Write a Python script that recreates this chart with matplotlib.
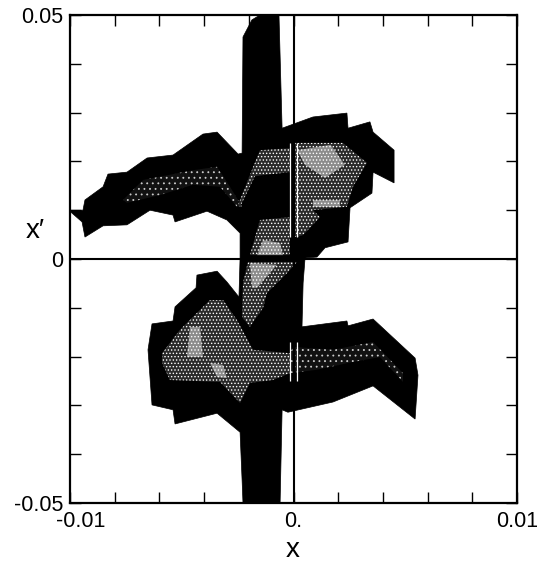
import matplotlib
matplotlib.use('Agg')
import matplotlib.pyplot as plt
import matplotlib.transforms as mtrans

plt.rcParams['font.family'] = ['Liberation Sans', 'DejaVu Sans']
plt.rcParams['hatch.linewidth'] = 0.6

# all phase space outlines are in units of 1e-3
scale = 1e-3

outline = [(-9.96, 10.0), (-9.42, 10.0), (-9.33, 12.1), (-8.52, 14.8), (-8.30, 17.4), (-7.45, 17.8),
           (-6.55, 20.7), (-5.39, 21.3), (-4.05, 25.6), (-3.42, 26.0), (-2.48, 21.5), (-2.30, 21.7),
           (-2.26, 45.5), (-1.86, 49.0), (-1.50, 50.0), (-0.65, 50.0), (-0.51, 26.8), (0.87, 29.1),
           (2.39, 29.9), (2.44, 26.8), (3.42, 28.1), (3.56, 26.0), (4.50, 22.3), (4.50, 15.6),
           (3.56, 17.8), (3.51, 13.5), (2.53, 10.5), (2.44, 3.5), (1.41, 2.3), (1.05, 0.4),
           (0.51, 0.2), (0.51, -0.2), (0.43, -4.9), (0.38, -13.9), (2.39, -12.7), (2.44, -13.7),
           (3.56, -12.3), (5.44, -20.3), (5.57, -23.8), (5.44, -32.8), (3.56, -26.0), (1.77, -29.3),
           (-0.25, -31.4), (-0.51, -30.9), (-0.60, -50.0), (-2.26, -50.0), (-2.30, -45.3), (-2.39, -35.5),
           (-3.42, -31.6), (-5.30, -33.8), (-5.39, -30.9), (-6.33, -29.9), (-6.51, -18.6), (-6.33, -13.3),
           (-5.39, -12.7), (-5.30, -9.8), (-4.36, -5.9), (-4.32, -3.3), (-3.42, -2.5), (-2.98, -4.7),
           (-2.44, -7.8), (-2.39, 0.2), (-2.39, 5.3), (-2.98, 8.0), (-3.87, 9.8), (-5.30, 7.6),
           (-5.39, 9.0), (-6.42, 10.0), (-7.45, 7.0), (-8.52, 6.8), (-9.33, 4.5), (-9.46, 7.6),
           (-9.96, 9.6)]

# sparse speckle regions, thin ends of the wings
sparse_regions = [
    [(-7.63, 12.1), (-6.73, 16.2), (-4.50, 18.2), (-3.42, 18.9), (-2.84, 14.8), (-2.30, 10.7),
     (-2.53, 10.7), (-3.29, 14.8), (-4.50, 15.2), (-5.97, 13.1), (-7.45, 11.5)],
    [(-0.16, -19.3), (-0.02, -18.0), (1.77, -18.6), (3.56, -17.0), (4.90, -23.4), (4.90, -25.2),
     (3.87, -20.1), (2.66, -21.1), (1.05, -22.7), (-0.16, -23.4)],
]

# medium density regions
mid_regions = [
    [(-1.50, 22.3), (-0.16, 22.7), (-0.16, 17.8), (-1.72, 17.0), (-2.39, 10.7), (-2.48, 11.1), (-1.77, 19.3)],
    [(0.07, 23.8), (2.21, 23.8), (3.29, 19.7), (2.66, 14.8), (2.39, 10.7), (0.87, 10.0),
     (1.19, 8.6), (0.43, 4.9), (0.07, 4.5)],
    [(-1.50, 8.0), (-0.16, 8.6), (-0.16, 0.8), (-1.95, 0.8)],
    [(-2.04, -0.6), (0.16, -0.6), (-0.29, -2.9), (-1.19, -7.0), (-1.36, -10.0), (-1.95, -13.9),
     (-2.30, -11.9), (-2.26, -4.9)],
    [(-5.88, -19.3), (-5.08, -14.5), (-3.74, -8.4), (-3.15, -8.4), (-2.53, -12.5), (-1.81, -18.6),
     (-0.16, -19.3), (-0.16, -23.4), (-0.92, -24.8), (-1.95, -25.4),
     (-2.39, -29.5), (-3.29, -25.2), (-5.53, -24.8), (-5.88, -21.3)],
]

# high density regions
bright_regions = [
    [(-1.63, 0.8), (-0.47, 0.8), (-0.60, 3.3), (-1.36, 3.9)],
    [(0.16, 22.3), (1.66, 23.4), (2.30, 19.3), (1.41, 16.6), (0.51, 19.3)],
    [(0.87, 12.1), (2.08, 12.1), (2.08, 10.7), (0.87, 10.7)],
    [(-1.95, -0.8), (-0.74, -1.2), (-1.63, -5.9), (-1.86, -5.9)],
    [(-4.63, -13.9), (-4.18, -13.9), (-4.05, -20.1), (-4.77, -20.1)],
    [(-3.74, -21.3), (-3.15, -21.7), (-2.98, -24.4), (-3.42, -24.2)],
]

# white gaps next to the x=0 line, (y from, y to)
gaps = [(4.5, 23.8), (-25.0, -17.0)]
gap_sides = [-0.00014, 0.00014]

x_ticks = [-0.01, -0.008, -0.006, -0.004, -0.002, 0.0, 0.002, 0.004, 0.006, 0.008, 0.01]
x_labels = ['-0.01', '', '', '', '', '0.', '', '', '', '', '0.01']
y_ticks = [-0.05, -0.04, -0.03, -0.02, -0.01, 0.0, 0.01, 0.02, 0.03, 0.04, 0.05]
y_labels = ['-0.05', '', '', '', '', '0', '', '', '', '', '0.05']


def fill_region(ax, region, **kwargs):
    xs = [p[0] * scale for p in region]
    ys = [p[1] * scale for p in region]
    ax.fill(xs, ys, **kwargs)


fig = plt.figure(figsize=(5.37, 5.66), dpi=100)
ax = fig.add_axes([70 / 537, 1 - 503 / 566, 447 / 537, 488 / 566])

fill_region(ax, outline, facecolor='black', edgecolor='black', linewidth=0.5, zorder=2)
for region in sparse_regions:
    fill_region(ax, region, facecolor='#111111', edgecolor='#cccccc', hatch='...', linewidth=0, zorder=3)
for region in mid_regions:
    fill_region(ax, region, facecolor='#2a2a2a', edgecolor='white', hatch='.....', linewidth=0, zorder=3)
for region in bright_regions:
    fill_region(ax, region, facecolor='#8c8c8c', edgecolor='white', hatch='.....', linewidth=0, zorder=4)

ax.axhline(0, color='black', linewidth=1.5, zorder=5)
ax.axvline(0, color='black', linewidth=1.5, zorder=5)
for y0, y1 in gaps:
    for side in gap_sides:
        ax.vlines(side, y0 * scale, y1 * scale, color='white', linewidth=0.9, zorder=6)

ax.set_xlim(-0.01, 0.01)
ax.set_ylim(-0.05, 0.05)
ax.set_xticks(x_ticks)
ax.set_xticklabels(x_labels)
ax.set_yticks(y_ticks)
ax.set_yticklabels(y_labels)
ax.tick_params(direction='in', length=8, width=1, top=True, right=True, labelsize=15.5, pad=5)
ax.tick_params(axis='x', pad=6)

# the -0.01 label sits to the right of its tick
lab = ax.get_xticklabels()[0]
lab.set_transform(lab.get_transform() + mtrans.ScaledTranslation(11 / 100, 0, fig.dpi_scale_trans))

for spine in ax.spines.values():
    spine.set_linewidth(1.6)

fig.text(293 / 537, 1 - 550 / 566, 'x', fontsize=20, ha='center', va='center')
fig.text(35 / 537, 1 - 231 / 566, 'x\u2032', fontsize=20, ha='center', va='center')

fig.savefig('out.png', dpi=100)
